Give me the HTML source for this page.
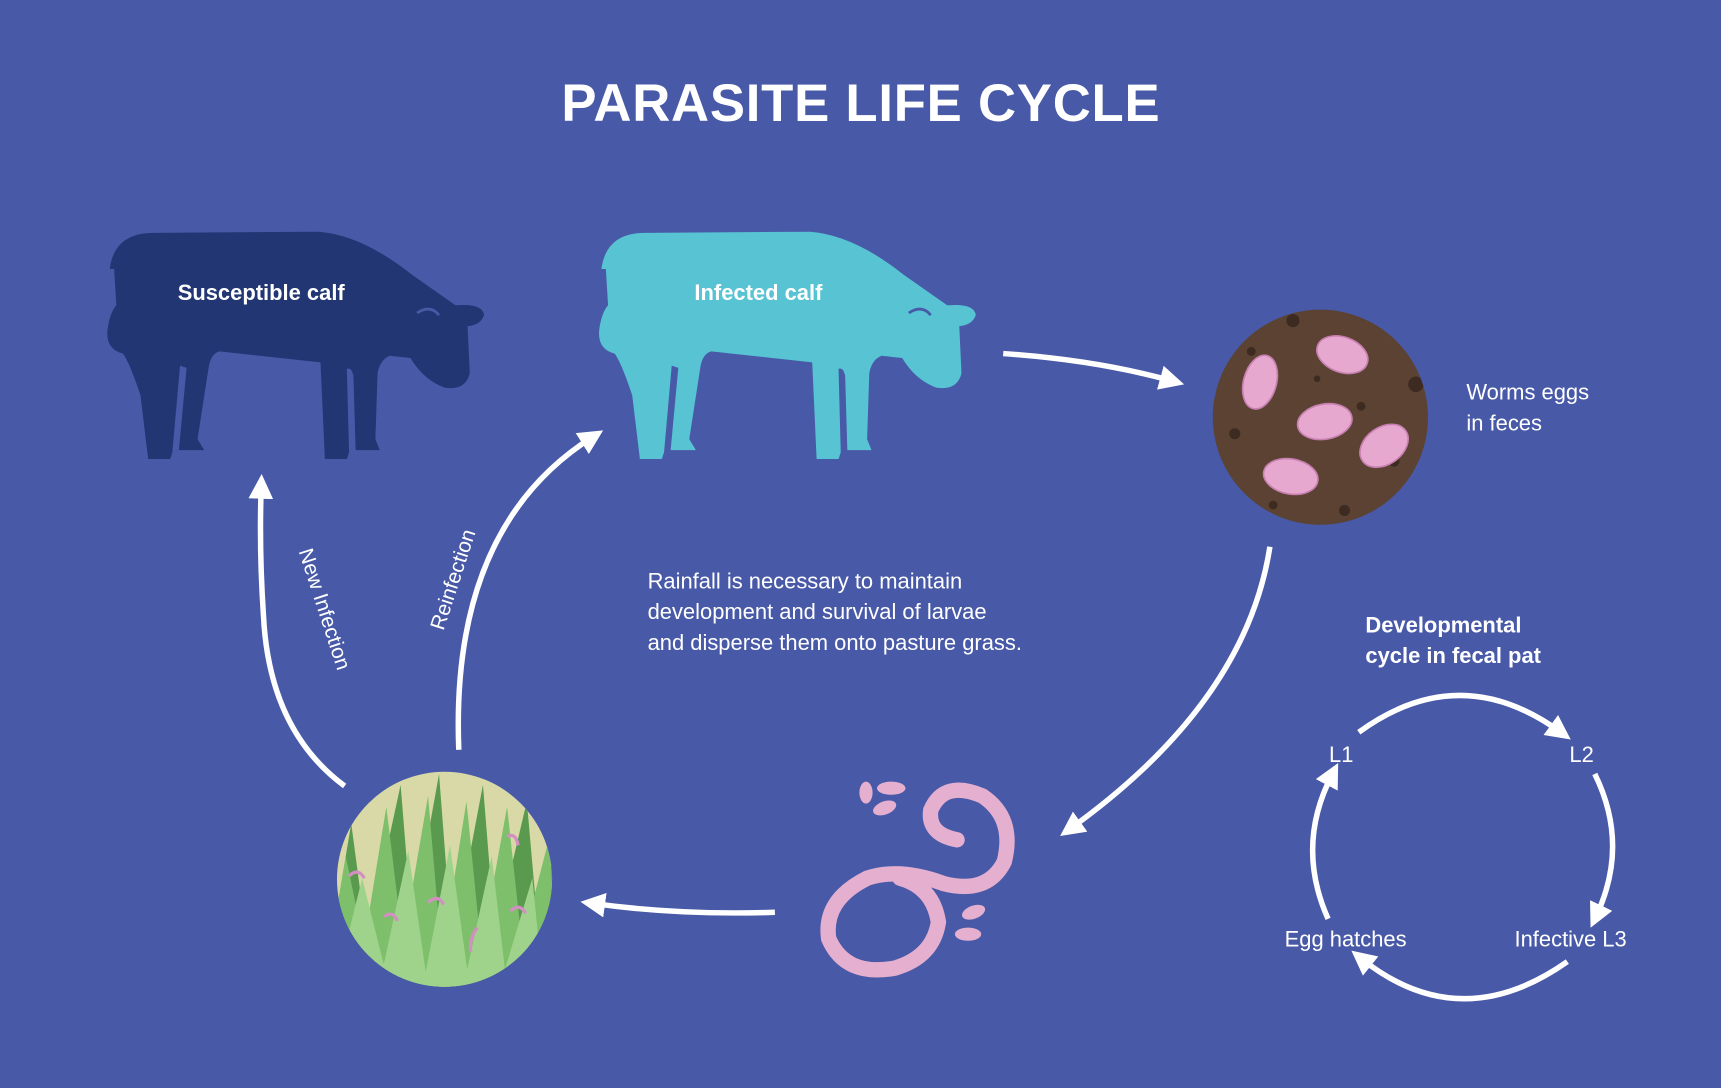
<!DOCTYPE html>
<html><head><meta charset="utf-8"><style>
html,body{margin:0;padding:0;background:#4859a7;}
svg{display:block}
text{font-family:"Liberation Sans",sans-serif;fill:#fff}
</style></head><body>
<svg width="1721" height="1088" viewBox="0 0 1568 991" xmlns="http://www.w3.org/2000/svg">
<defs>
<marker id="ah" viewBox="0 0 10 10" refX="5" refY="5" markerWidth="4.5" markerHeight="4.5" orient="auto-start-reverse"><path d="M0,0 L10,5 L0,10 Z" fill="#fff"/></marker>
<path id="cow" d="M100,245 Q104,212 140,212 L290,211 Q330,214 375,250 L415,278 Q440,276 441,287 Q438,296 426,297 L428,340 Q424,356 405,353 Q386,346 374,326 L355,324 Q346,328 344,340 L342,400 L346,410 L324,410 L322,342 Q320,334 316,336 L318,412 L316,418 L296,418 L292,330 L200,320 Q192,322 190,335 L180,400 L186,410 L163,410 L170,335 L164,333 L157,412 L155,418 L135,418 L128,360 Q118,330 112,322 Q96,318 98,300 Q100,285 106,278 L104,245 Z"/>
<clipPath id="c1"><circle cx="1203" cy="380" r="98"/></clipPath>
<clipPath id="c2"><circle cx="405" cy="801" r="98"/></clipPath>
</defs>
<rect width="1568" height="991" fill="#4859a7"/>
<text x="784" y="110" text-anchor="middle" font-size="48" font-weight="bold" textLength="545">PARASITE LIFE CYCLE</text>

<use href="#cow" fill="#213672"/>
<path d="M380,285 Q392,277 400,287" stroke="#4859a7" stroke-width="2.5" fill="none"/>
<text x="238" y="273" text-anchor="middle" font-size="20" font-weight="bold">Susceptible calf</text>
<g transform="translate(448,0)"><use href="#cow" fill="#58c3d3"/>
<path d="M380,285 Q392,277 400,287" stroke="#4859a7" stroke-width="2.5" fill="none"/></g>
<text x="691" y="273" text-anchor="middle" font-size="20" font-weight="bold">Infected calf</text>

<!-- feces -->
<circle cx="1203" cy="380" r="98" fill="#5b4232"/>
<g clip-path="url(#c1)" fill="#3d2a20">
<circle cx="1178" cy="292" r="6"/><circle cx="1140" cy="320" r="4"/><circle cx="1290" cy="350" r="7"/><circle cx="1125" cy="395" r="5"/><circle cx="1240" cy="370" r="4"/><circle cx="1200" cy="345" r="3"/><circle cx="1270" cy="420" r="5"/><circle cx="1160" cy="460" r="4"/><circle cx="1225" cy="465" r="5"/><circle cx="1285" cy="300" r="4"/>
</g>
<g fill="#e7a8d0" stroke="#c77fb0" stroke-width="1.5">
<ellipse cx="1148" cy="348" rx="15" ry="25" transform="rotate(15 1148 348)"/>
<ellipse cx="1223" cy="323" rx="24" ry="16" transform="rotate(20 1223 323)"/>
<ellipse cx="1207" cy="384" rx="25" ry="16" transform="rotate(-10 1207 384)"/>
<ellipse cx="1261" cy="406" rx="24" ry="17" transform="rotate(-35 1261 406)"/>
<ellipse cx="1176" cy="434" rx="25" ry="16" transform="rotate(10 1176 434)"/>
</g>
<text font-size="20"><tspan x="1336" y="364">Worms eggs</tspan><tspan x="1336" y="392">in feces</tspan></text>

<!-- grass -->
<circle cx="405" cy="801" r="98" fill="#d8d9a6"/>
<g clip-path="url(#c2)">
<path d="M295,900 L320,750 L340,900 Z M325,900 L365,715 L380,900 Z M365,900 L400,705 L415,900 Z M405,900 L440,715 L455,900 Z M440,900 L480,730 L495,900 Z M470,900 L510,760 L515,900 Z" fill="#5a9a4e"/>
<path d="M295,900 L315,780 L340,900 Z M325,900 L352,735 L372,900 Z M360,900 L390,725 L405,900 Z M398,900 L425,730 L442,900 Z M432,900 L462,735 L480,900 Z M465,900 L500,765 L510,900 Z" fill="#7dbf6a"/>
<path d="M305,900 L330,800 L355,900 Z M345,900 L372,775 L390,900 Z M385,900 L410,770 L428,900 Z M422,900 L448,780 L462,900 Z M455,900 L485,800 L495,900 Z" fill="#9fd38c"/>
<g stroke="#d48fc2" stroke-width="3" fill="none"><path d="M318,798 q8,-8 14,2"/><path d="M350,835 q8,-6 12,4"/><path d="M390,822 q10,-8 14,2"/><path d="M435,845 q-8,10 -6,22"/><path d="M465,830 q8,-8 14,2"/><path d="M462,762 q8,-4 10,8"/></g>
</g>

<!-- worm -->
<g fill="none" stroke="#e5afcf" stroke-width="14" stroke-linecap="round">
<path d="M872,765 Q845,760 848,738 Q860,710 895,725 Q925,745 915,785 Q900,815 860,805 Q820,790 790,800 Q750,820 755,855 Q770,890 815,882 Q850,872 855,840 Q850,808 820,800"/>
</g>
<g fill="#e5afcf"><ellipse cx="789" cy="722" rx="6" ry="10"/><ellipse cx="812" cy="718" rx="13" ry="6"/><ellipse cx="806" cy="736" rx="11" ry="6" transform="rotate(-20 806 736)"/><ellipse cx="887" cy="831" rx="11" ry="6" transform="rotate(-20 887 831)"/><ellipse cx="882" cy="851" rx="12" ry="6"/></g>

<!-- arrows -->
<g stroke="#fff" stroke-width="5" fill="none" marker-end="url(#ah)">
<path d="M914,322 Q1000,328 1068,347"/>
<path d="M1157,498 Q1135,640 975,755"/>
<path d="M706,831 Q620,834 540,823"/>
<path d="M314,716 Q245,665 240,560 Q236,500 238,443"/>
<path d="M418,683 Q410,480 540,398"/>
<path d="M1238,667 Q1330,600 1422,667"/>
<path d="M1453,705 Q1485,770 1454,835"/>
<path d="M1428,876 Q1330,945 1240,873"/>
<path d="M1210,837 Q1180,770 1214,705"/>
</g>
<text font-size="19" transform="translate(404,575) rotate(-72)">Reinfection</text>
<text font-size="19" transform="translate(272,502) rotate(72)">New Infection</text>

<text font-size="20"><tspan x="590" y="536">Rainfall is necessary to maintain</tspan><tspan x="590" y="564">development and survival of larvae</tspan><tspan x="590" y="592">and disperse them onto pasture grass.</tspan></text>
<text font-size="20" font-weight="bold"><tspan x="1244" y="576">Developmental</tspan><tspan x="1244" y="604">cycle in fecal pat</tspan></text>
<text font-size="20" x="1222" y="694" text-anchor="middle">L1</text>
<text font-size="20" x="1441" y="694" text-anchor="middle">L2</text>
<text font-size="20" x="1431" y="862" text-anchor="middle">Infective L3</text>
<text font-size="20" x="1226" y="862" text-anchor="middle">Egg hatches</text>
</svg>
</body></html>
